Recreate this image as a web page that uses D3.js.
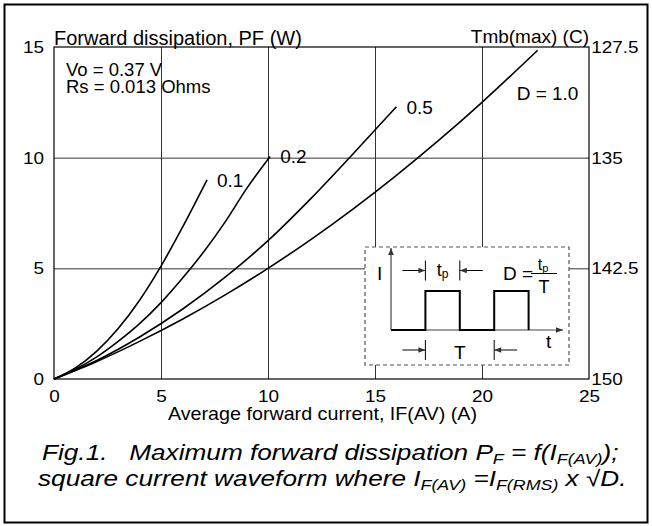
<!DOCTYPE html>
<html>
<head>
<meta charset="utf-8">
<script src="https://cdn.jsdelivr.net/npm/d3@7"></script>
<style>
  body { margin: 0; background: #fff; }
  svg text { font-family: "Liberation Sans", Arial, sans-serif; fill: #000; }
</style>
</head>
<body>
<script>
// curve data: IF(AV) in A, PF in W
var d01X = [0, 1, 2, 3, 4, 5, 6, 7.15];
var d01Y = [0, 0.5, 1.26, 2.28, 3.56, 5.1, 6.85, 9.0];
var d02X = [0, 1, 2, 3, 4, 5, 6, 7, 8, 9, 10.1];
var d02Y = [0, 0.44, 1.0, 1.7, 2.5, 3.45, 4.55, 5.75, 7.1, 8.6, 10.05];
var d05X = [0, 2, 4, 6, 8, 10, 12, 14, 16];
var d05Y = [0, 0.84, 1.9, 3.15, 4.6, 6.25, 8.15, 10.2, 12.3];
var d10X = [0, 2, 4, 6, 8, 10, 12, 14, 16, 18, 20, 22, 22.6];
var d10Y = [0, 0.79, 1.7, 2.7, 3.8, 5.0, 6.3, 7.7, 9.2, 10.8, 12.5, 14.3, 14.85];
var dutyLabels = ["0.1", "0.2", "0.5", "D = 1.0"];

var xTicks = [0, 5, 10, 15, 20, 25];
var yTicks = [0, 5, 10, 15];
var tmbTicks = [150, 142.5, 135, 127.5];

var W = 652, H = 526;
var margin = { top: 47, right: 63, bottom: 147, left: 54 },
  w = W - margin.left - margin.right,
  h = H - margin.top - margin.bottom;

var svg = d3.select("body").append("svg")
  .attr("width", W)
  .attr("height", H);

// outer frame
svg.append("rect")
  .attr("x", 4.5).attr("y", 4.5)
  .attr("width", W - 9).attr("height", H - 8)
  .attr("fill", "none").attr("stroke", "#000").attr("stroke-width", 2);

var g = svg.append("g")
  .attr("transform", "translate(" + margin.left + "," + margin.top + ")");

var x = d3.scaleLinear().domain([0, 25]).range([0, w]);
var y = d3.scaleLinear().domain([0, 15]).range([h, 0]);
var yR = d3.scaleLinear().domain([150, 127.5]).range([h, 0]);

// grid
g.append("g")
  .attr("class", "grid")
  .attr("transform", "translate(0," + h + ")")
  .call(d3.axisBottom(x).tickValues(xTicks.slice(1, -1)).tickSize(-h).tickFormat(""))
  .call(function (s) { s.select(".domain").remove(); });
g.append("g")
  .attr("class", "grid")
  .call(d3.axisLeft(y).tickValues(yTicks.slice(1, -1)).tickSize(-w).tickFormat(""))
  .call(function (s) { s.select(".domain").remove(); });
g.selectAll(".grid line").attr("stroke", "#333").attr("stroke-width", 1);

g.append("rect")
  .attr("width", w).attr("height", h)
  .attr("fill", "none").attr("stroke", "#000").attr("stroke-width", 1.2);

// tick labels - the original lettering is a bit wide, so squash height a little
var fs = 19;
function labelsOnly(s) {
  s.select(".domain").remove();
  s.selectAll("line").remove();
  s.selectAll("text")
    .attr("font-size", 17.2)
    .attr("font-family", null)
    .attr("transform", "scale(1.1,1)");
}
g.append("g")
  .attr("transform", "translate(0," + h + ")")
  .call(d3.axisBottom(x).tickValues(xTicks).tickSize(0).tickPadding(11))
  .call(labelsOnly);
g.append("g")
  .call(d3.axisLeft(y).tickValues(yTicks).tickSize(0).tickPadding(9))
  .call(labelsOnly);
g.append("g")
  .attr("transform", "translate(" + w + ",0)")
  .call(d3.axisRight(yR).tickValues(tmbTicks).tickSize(0).tickPadding(2).tickFormat(d3.format("")))
  .call(labelsOnly);

// curves
var line = d3.line()
  .x(function (d) { return x(d[0]); })
  .y(function (d) { return y(d[1]); })
  .curve(d3.curveMonotoneX);

var series = [
  { xs: d01X, ys: d01Y, label: dutyLabels[0], dx: 10, dy: 7 },
  { xs: d02X, ys: d02Y, label: dutyLabels[1], dx: 10, dy: 6 },
  { xs: d05X, ys: d05Y, label: dutyLabels[2], dx: 10, dy: 7 },
  { xs: d10X, ys: d10Y, label: dutyLabels[3], dx: -21, dy: 50 }
];
series.forEach(function (s) {
  var pts = s.xs.map(function (v, i) { return [v, s.ys[i]]; });
  g.append("path")
    .datum(pts)
    .attr("d", line)
    .attr("fill", "none")
    .attr("stroke", "#000")
    .attr("stroke-width", 1.6);
  var last = pts[pts.length - 1];
  g.append("text")
    .attr("x", x(last[0]) + s.dx)
    .attr("y", y(last[1]) + s.dy)
    .attr("font-size", fs)
    .text(s.label);
});

// titles
g.append("text").attr("x", 0).attr("y", -2).attr("font-size", 20)
  .text("Forward dissipation, PF (W)");
g.append("text").attr("x", w).attr("y", -4).attr("font-size", 19)
  .attr("text-anchor", "end").text("Tmb(max) (C)");
g.append("text").attr("x", 12).attr("y", 29).attr("font-size", 18.5).text("Vo = 0.37 V");
g.append("text").attr("x", 12).attr("y", 45.5).attr("font-size", 18.5).text("Rs = 0.013 Ohms");
g.append("text")
  .attr("transform", "translate(" + (w / 2 + 1) + "," + (h + 40.5) + ") scale(1.12,1)")
  .attr("font-size", 17.6)
  .attr("text-anchor", "middle").text("Average forward current, IF(AV) (A)");

// inset: square current waveform
var inset = svg.append("g");
inset.append("rect")
  .attr("x", 365).attr("y", 247).attr("width", 204).attr("height", 118)
  .attr("fill", "#fff").attr("stroke", "#555").attr("stroke-width", 1.2)
  .attr("stroke-dasharray", "4,3");

var tx = d3.scaleLinear().domain([0, 5]).range([391, 563]);
var ty = d3.scaleLinear().domain([0, 1]).range([330, 291]);
var pulseT = [0, 1, 1, 2, 2, 3, 3, 4, 4];
var pulseI = [0, 0, 1, 1, 0, 0, 1, 1, 0];

svg.append("defs").selectAll("marker")
  .data(["arr"]).enter().append("marker")
  .attr("id", "arr").attr("viewBox", "0 0 10 10")
  .attr("refX", 10).attr("refY", 5)
  .attr("markerWidth", 9).attr("markerHeight", 7)
  .attr("markerUnits", "userSpaceOnUse")
  .attr("orient", "auto")
  .append("path").attr("d", "M0,1L10,5L0,9Z").attr("fill", "#333");

inset.append("line")
  .attr("x1", tx(0)).attr("y1", ty(0)).attr("x2", tx(5)).attr("y2", ty(0))
  .attr("stroke", "#444").attr("stroke-width", 1.2).attr("marker-end", "url(#arr)");
inset.append("line")
  .attr("x1", tx(0)).attr("y1", ty(0)).attr("x2", tx(0)).attr("y2", 248)
  .attr("stroke", "#444").attr("stroke-width", 1.2).attr("marker-end", "url(#arr)");
inset.append("path")
  .datum(pulseT.map(function (t, i) { return [t, pulseI[i]]; }))
  .attr("d", d3.line().x(function (d) { return tx(d[0]); }).y(function (d) { return ty(d[1]); }))
  .attr("fill", "none").attr("stroke", "#000").attr("stroke-width", 2);

function dim(t0, t1, yy, len) {
  [t0, t1].forEach(function (t) {
    inset.append("line").attr("x1", tx(t)).attr("x2", tx(t))
      .attr("y1", yy - 10).attr("y2", yy + 10)
      .attr("stroke", "#000").attr("stroke-width", 1);
  });
  inset.append("line").attr("x1", tx(t0) - len).attr("x2", tx(t0)).attr("y1", yy).attr("y2", yy)
    .attr("stroke", "#000").attr("stroke-width", 1).attr("marker-end", "url(#arr)");
  inset.append("line").attr("x1", tx(t1) + len).attr("x2", tx(t1)).attr("y1", yy).attr("y2", yy)
    .attr("stroke", "#000").attr("stroke-width", 1).attr("marker-end", "url(#arr)");
}
dim(1, 2, 270.5, 23);
dim(1, 3, 350, 23);

var tp = inset.append("text").attr("x", tx(1.5)).attr("y", 276).attr("font-size", 18)
  .attr("text-anchor", "middle");
tp.append("tspan").text("t");
tp.append("tspan").attr("font-size", 12).attr("dy", 2).text("p");
inset.append("text").attr("x", tx(2)).attr("y", 359).attr("font-size", 19)
  .attr("text-anchor", "middle").text("T");
inset.append("text").attr("x", 377).attr("y", 280).attr("font-size", 19).text("I");
inset.append("text").attr("x", 546).attr("y", 348).attr("font-size", 19).text("t");
inset.append("text").attr("x", 503).attr("y", 280).attr("font-size", 19).text("D =");
var fr = inset.append("text").attr("x", 543).attr("y", 270).attr("font-size", 16)
  .attr("text-anchor", "middle");
fr.append("tspan").text("t");
fr.append("tspan").attr("font-size", 11).attr("dy", 2).text("p");
inset.append("line").attr("x1", 531).attr("x2", 557).attr("y1", 273.5).attr("y2", 273.5)
  .attr("stroke", "#000").attr("stroke-width", 1);
inset.append("text").attr("x", 544).attr("y", 293).attr("font-size", 18)
  .attr("text-anchor", "middle").text("T");

// caption (the original type is set wide, so stretch it horizontally)
var cap = svg.append("g").attr("font-style", "italic").attr("font-size", 22);
var l1 = cap.append("text").attr("transform", "translate(42,460) scale(1.19,1)")
  .attr("xml:space", "preserve");
l1.append("tspan").text("Fig.1.   Maximum forward dissipation P");
l1.append("tspan").attr("font-size", 15).attr("dy", 4).text("F");
l1.append("tspan").attr("dy", -4).text(" = f(I");
l1.append("tspan").attr("font-size", 15).attr("dy", 4).text("F(AV)");
l1.append("tspan").attr("dy", -4).text(");");
var l2 = cap.append("text").attr("transform", "translate(38,486) scale(1.19,1)")
  .attr("xml:space", "preserve");
l2.append("tspan").text("square current waveform where I");
l2.append("tspan").attr("font-size", 15).attr("dy", 4).text("F(AV)");
l2.append("tspan").attr("dy", -4).text(" =I");
l2.append("tspan").attr("font-size", 15).attr("dy", 4).text("F(RMS)");
l2.append("tspan").attr("dy", -4).text(" x \u221AD.");
</script>
</body>
</html>
